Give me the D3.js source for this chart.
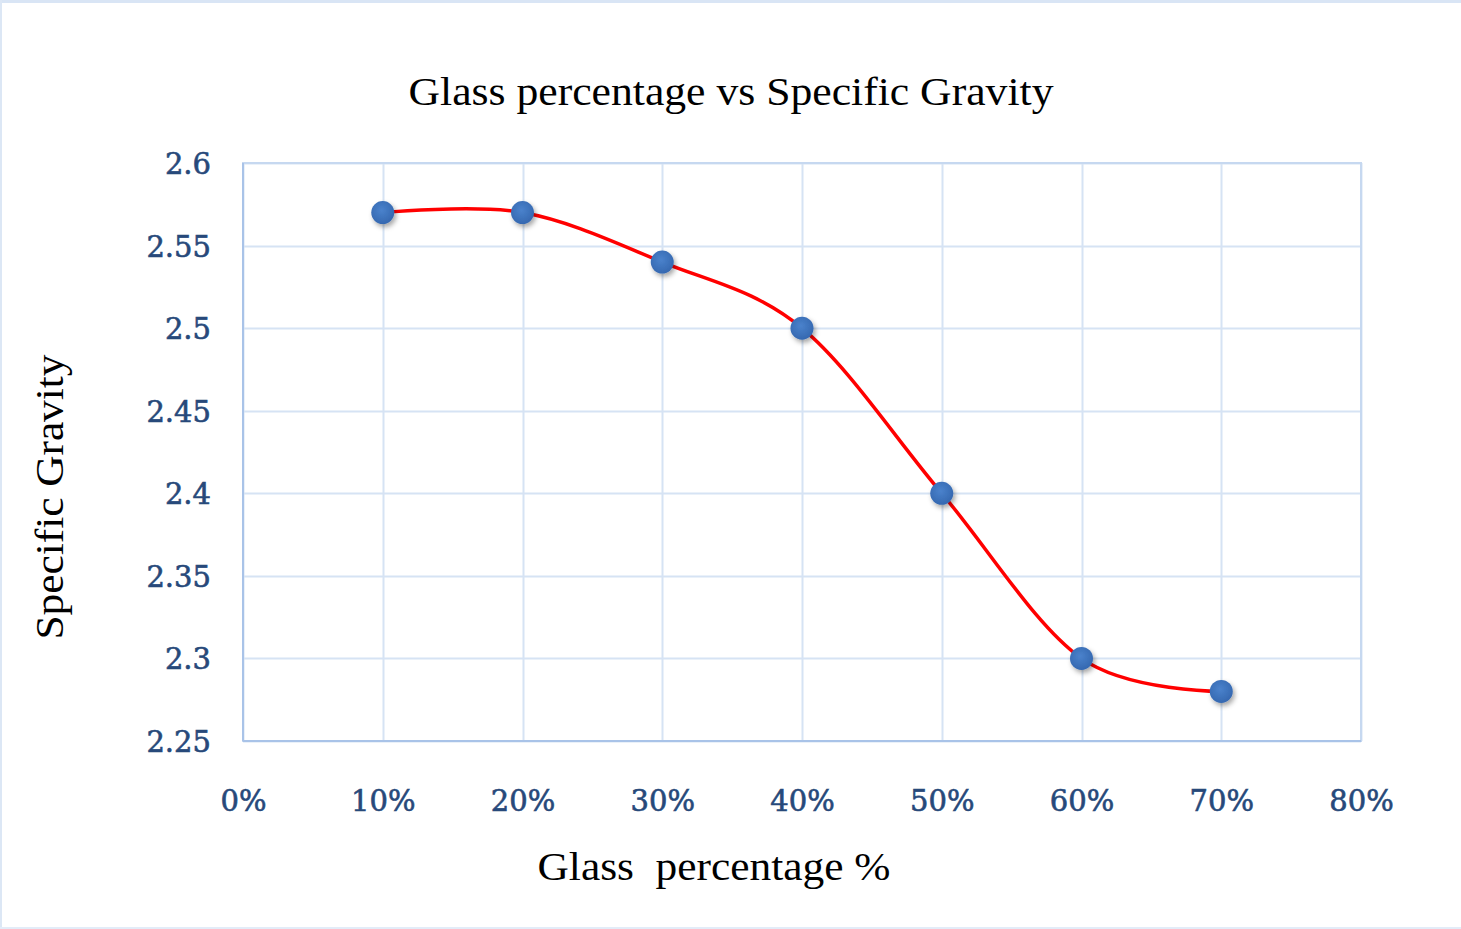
<!DOCTYPE html>
<html>
<head>
<meta charset="utf-8">
<script src="https://cdn.jsdelivr.net/npm/d3@7"></script>
<style>
  html, body { margin: 0; padding: 0; background: #ffffff; }
  svg { display: block; }
</style>
</head>
<body>
<svg id="chart" width="1461" height="929"></svg>
<script>
// Glass content (%) and measured specific gravity
const glassPct = [10, 20, 30, 40, 50, 60, 70];
const specificGravity = [2.57, 2.57, 2.54, 2.50, 2.40, 2.30, 2.28];
const xTicks = [0, 10, 20, 30, 40, 50, 60, 70, 80];
const yTicks = [2.25, 2.3, 2.35, 2.4, 2.45, 2.5, 2.55, 2.6];

const W = 1461, H = 929;
const margin = { left: 243, right: W - 1361, top: 163, bottom: H - 741 };

const svg = d3.select("#chart");

// outer frame: top band, left and bottom edges
svg.append("rect").attr("x", 0).attr("y", 0).attr("width", W).attr("height", H).attr("fill", "#ffffff");
svg.append("rect").attr("x", 0).attr("y", 0).attr("width", W).attr("height", 3).attr("fill", "#d9e5f5");
svg.append("rect").attr("x", 0).attr("y", 0).attr("width", 2).attr("height", H).attr("fill", "#dce7f5");
svg.append("rect").attr("x", 0).attr("y", H - 2).attr("width", W).attr("height", 2).attr("fill", "#e3ecf8");

const x = d3.scaleLinear().domain([0, 80]).range([margin.left, W - margin.right]);
const y = d3.scaleLinear().domain([2.25, 2.6]).range([H - margin.bottom, margin.top]);

const defs = svg.append("defs");
const shadow = defs.append("filter").attr("id", "shadow")
  .attr("x", "-50%").attr("y", "-50%").attr("width", "200%").attr("height", "200%");
shadow.append("feDropShadow")
  .attr("dx", 2).attr("dy", 3).attr("stdDeviation", 2.5)
  .attr("flood-color", "#000").attr("flood-opacity", 0.35);

const grad = defs.append("radialGradient").attr("id", "dot")
  .attr("cx", "45%").attr("cy", "40%").attr("r", "60%");
grad.append("stop").attr("offset", "0%").attr("stop-color", "#4a82cc");
grad.append("stop").attr("offset", "100%").attr("stop-color", "#3568b0");

// gridlines
const grid = svg.append("g");
grid.selectAll("line.h").data(yTicks).join("line")
  .attr("x1", x(0)).attr("x2", x(80))
  .attr("y1", d => Math.round(y(d)) + 0.5).attr("y2", d => Math.round(y(d)) + 0.5)
  .attr("stroke", "#d6e3f4").attr("stroke-width", 2);
grid.selectAll("line.v").data(xTicks).join("line")
  .attr("y1", y(2.6)).attr("y2", y(2.25))
  .attr("x1", d => Math.round(x(d)) + 0.5).attr("x2", d => Math.round(x(d)) + 0.5)
  .attr("stroke", "#d6e3f4").attr("stroke-width", 2);

// plot frame
svg.append("rect")
  .attr("x", x(0)).attr("y", y(2.6))
  .attr("width", x(80) - x(0)).attr("height", y(2.25) - y(2.6))
  .attr("fill", "none").attr("stroke", "#c6d8f0").attr("stroke-width", 2);
svg.append("line")
  .attr("x1", x(0)).attr("x2", x(0)).attr("y1", y(2.6)).attr("y2", y(2.25))
  .attr("stroke", "#a9c3e8").attr("stroke-width", 2);
svg.append("line")
  .attr("x1", x(0)).attr("x2", x(80)).attr("y1", y(2.25)).attr("y2", y(2.25))
  .attr("stroke", "#a9c3e8").attr("stroke-width", 2);

// axes (labels only)
const tickFont = "'DejaVu Serif', serif";
const xAxis = d3.axisBottom(x).tickValues(xTicks).tickFormat(d => d + "%").tickSize(0).tickPadding(0);
const yAxis = d3.axisLeft(y).tickValues(yTicks).tickFormat(d => String(+d.toFixed(2))).tickSize(0).tickPadding(0);

const gx = svg.append("g").attr("transform", `translate(0, ${y(2.25) + 70})`).call(xAxis);
const gy = svg.append("g").attr("transform", `translate(${x(0) - 32}, 0)`).call(yAxis);
[gx, gy].forEach(g => {
  g.select(".domain").remove();
  g.selectAll("text")
    .attr("font-family", tickFont)
    .attr("font-size", 29)
    .attr("fill", "#27497a")
    .attr("stroke", "#27497a")
    .attr("stroke-width", 0.6);
});
gx.selectAll("text").attr("dy", 0);
gy.selectAll("text").attr("dy", "0.36em");

// smoothed series line
const pts = glassPct.map((g, i) => [g, specificGravity[i]]);
const line = d3.line()
  .x(d => x(d[0])).y(d => y(d[1]))
  .curve(d3.curveCardinal.tension(0));
svg.append("path")
  .datum(pts)
  .attr("d", line)
  .attr("fill", "none")
  .attr("stroke", "#ff0000")
  .attr("stroke-width", 3.5);

// markers
svg.append("g").selectAll("circle").data(pts).join("circle")
  .attr("cx", d => x(d[0])).attr("cy", d => y(d[1]))
  .attr("r", 11.5)
  .attr("fill", "url(#dot)")
  .attr("filter", "url(#shadow)");

// titles
const serif = "'Liberation Serif', 'Times New Roman', serif";
svg.append("text")
  .attr("x", 731).attr("y", 105)
  .attr("text-anchor", "middle")
  .attr("font-family", serif).attr("font-size", 40)
  .attr("textLength", 645).attr("lengthAdjust", "spacingAndGlyphs")
  .attr("fill", "#000")
  .text("Glass percentage vs Specific Gravity");

svg.append("text")
  .attr("x", 714).attr("y", 880)
  .attr("text-anchor", "middle")
  .attr("font-family", serif).attr("font-size", 40)
  .attr("textLength", 353).attr("lengthAdjust", "spacingAndGlyphs")
  .attr("xml:space", "preserve")
  .attr("fill", "#000")
  .text("Glass  percentage %");

svg.append("text")
  .attr("transform", "translate(63, 497) rotate(-90)")
  .attr("text-anchor", "middle")
  .attr("font-family", serif).attr("font-size", 40)
  .attr("textLength", 285).attr("lengthAdjust", "spacingAndGlyphs")
  .attr("fill", "#000")
  .text("Specific Gravity");
</script>
</body>
</html>
